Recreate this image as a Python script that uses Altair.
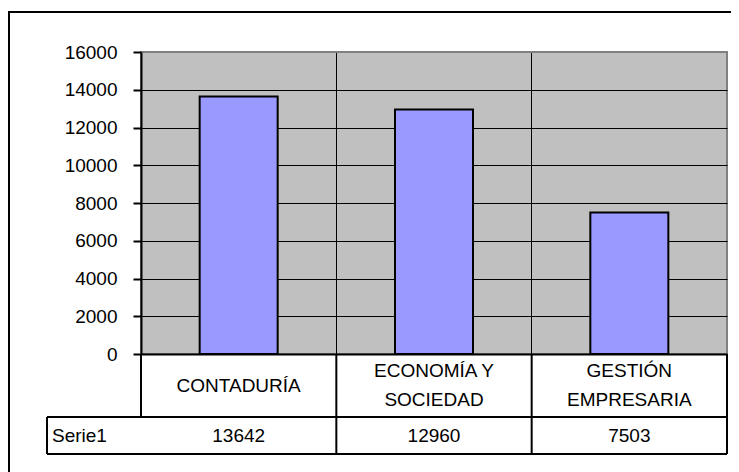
import altair as alt
import pandas as pd

# ---- data ----
categories = ["CONTADURÍA", "ECONOMÍA Y SOCIEDAD", "GESTIÓN EMPRESARIA"]
category_lines = [["CONTADURÍA"], ["ECONOMÍA Y", "SOCIEDAD"], ["GESTIÓN", "EMPRESARIA"]]
values = [13642, 12960, 7503]
series_name = "Serie1"
y_ticks = [0, 2000, 4000, 6000, 8000, 10000, 12000, 14000, 16000]

W, H = 586, 302
ROW1, ROW2 = 365, 402
TLEFT = -94
FONT = "Liberation Sans"
FS = 19
LH = 29

df = pd.DataFrame({"cat": categories, "value": values})

label_rows = []
for c, lines_ in zip(categories, category_lines):
    n = len(lines_)
    for i, t in enumerate(lines_):
        label_rows.append({"cat": c, "line": t,
                           "ypix": (H + ROW1) / 2 + (i - (n - 1) / 2) * LH})
labels_df = pd.DataFrame(label_rows)

xenc = alt.X(
    "cat:N", sort=categories,
    scale=alt.Scale(paddingInner=0, paddingOuter=0),
    axis=alt.Axis(title=None, labels=False, ticks=False, domain=True,
                  domainColor="black", domainWidth=2,
                  grid=True, gridColor="black", gridWidth=1, bandPosition=0),
)

bars = alt.Chart(df).mark_bar(size=78, color="#9999FF", stroke="black", strokeWidth=2).encode(
    x=xenc,
    y=alt.Y("value:Q", scale=alt.Scale(domain=[0, 16000], nice=False),
            axis=alt.Axis(title=None, values=y_ticks, format="d", labelFont=FONT, labelFontSize=FS,
                          labelColor="black", labelPadding=16, tickSize=8, tickColor="black",
                          tickWidth=2, domainColor="black", domainWidth=2,
                          grid=True,
                          gridColor={"condition": {"test": "datum.value === 16000", "value": "#808080"},
                                     "value": "black"},
                          gridWidth=1)),
)

# table decoration lines (layout, in plot pixels)
seg = pd.DataFrame([
    {"x": 0, "x2": 0, "y": H, "y2": ROW1},
    {"x": W / 3, "x2": W / 3, "y": H, "y2": ROW2},
    {"x": 2 * W / 3, "x2": 2 * W / 3, "y": H, "y2": ROW2},
    {"x": W, "x2": W, "y": H, "y2": ROW2},
    {"x": TLEFT, "x2": TLEFT, "y": ROW1, "y2": ROW2},
    {"x": TLEFT, "x2": W, "y": ROW1, "y2": ROW1},
    {"x": TLEFT, "x2": W, "y": ROW2, "y2": ROW2},
])
lines = alt.Chart(seg).mark_rule(color="black", strokeWidth=2).encode(
    x=alt.X("x:Q", scale=None), x2="x2:Q",
    y=alt.Y("y:Q", scale=None), y2="y2:Q",
)

frame = alt.Chart(alt.Data(values=[{}])).mark_rect(fill=None, stroke="black", strokeWidth=2).encode(
    x=alt.value(-132), x2=alt.value(596), y=alt.value(-40), y2=alt.value(480)
)

cat_text = alt.Chart(labels_df).mark_text(font=FONT, fontSize=FS, baseline="middle", color="black").encode(
    x=alt.X("cat:N", sort=categories), y=alt.Y("ypix:Q", scale=None), text="line:N"
)

val_text = alt.Chart(df).mark_text(font=FONT, fontSize=FS, baseline="middle", color="black").encode(
    x=alt.X("cat:N", sort=categories), y=alt.value((ROW1 + ROW2) / 2),
    text=alt.Text("value:Q", format="d")
)

serie_text = alt.Chart(alt.Data(values=[{"s": series_name}])).mark_text(
    font=FONT, fontSize=FS, baseline="middle", align="left", color="black").encode(
    x=alt.value(TLEFT + 5), y=alt.value((ROW1 + ROW2) / 2), text="s:N"
)

chart = alt.layer(bars, lines, frame, cat_text, val_text, serie_text).properties(
    width=W, height=H,
    autosize=alt.AutoSizeParams(type="none"),
    padding={"left": 133, "top": 44, "right": 4, "bottom": 118},
    background="white",
).configure_view(fill="#C0C0C0", stroke="#808080", strokeWidth=2)

chart.save("out.html", embed_options={"renderer": "svg", "actions": False})
